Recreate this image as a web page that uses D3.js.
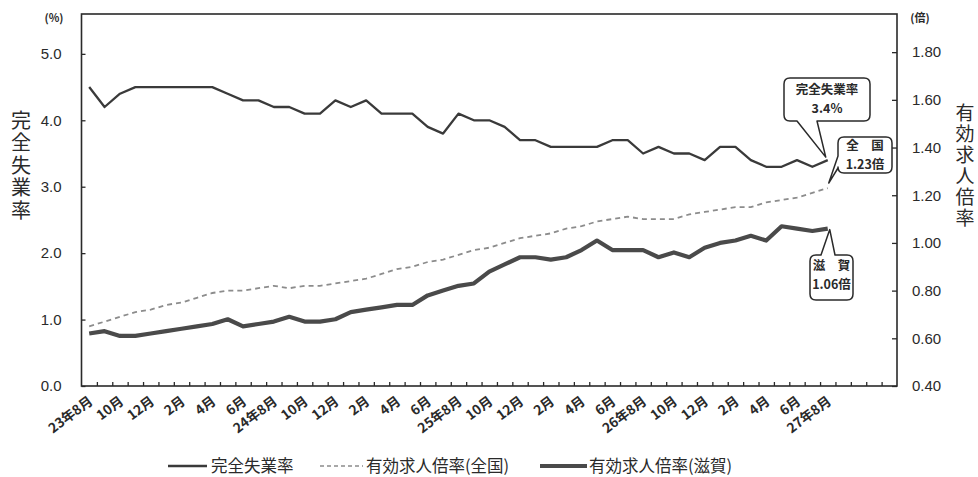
<!DOCTYPE html>
<html><head><meta charset="utf-8">
<script src="https://cdn.jsdelivr.net/npm/d3@7"></script>
<style>html,body{margin:0;padding:0;background:#fff;} svg{display:block;}</style>
</head><body><svg id="c" width="978" height="477"></svg>
<script>
// ---- data ----
const months = [
 "23年8月","9月","10月","11月","12月","1月","2月","3月","4月","5月","6月","7月",
 "24年8月","9月","10月","11月","12月","1月","2月","3月","4月","5月","6月","7月",
 "25年8月","9月","10月","11月","12月","1月","2月","3月","4月","5月","6月","7月",
 "26年8月","9月","10月","11月","12月","1月","2月","3月","4月","5月","6月","7月",
 "27年8月"];
const unemployment = [
 4.5,4.2,4.4,4.5,4.5,4.5,4.5,4.5,4.5,4.4,4.3,4.3,
 4.2,4.2,4.1,4.1,4.3,4.2,4.3,4.1,4.1,4.1,3.9,3.8,
 4.1,4.0,4.0,3.9,3.7,3.7,3.6,3.6,3.6,3.6,3.7,3.7,
 3.5,3.6,3.5,3.5,3.4,3.6,3.6,3.4,3.3,3.3,3.4,3.3,
 3.4];
const ratioNational = [
 0.65,0.67,0.69,0.71,0.72,0.74,0.75,0.77,0.79,0.80,0.80,0.81,
 0.82,0.81,0.82,0.82,0.83,0.84,0.85,0.87,0.89,0.90,0.92,0.93,
 0.95,0.97,0.98,1.00,1.02,1.03,1.04,1.06,1.07,1.09,1.10,1.11,
 1.10,1.10,1.10,1.12,1.13,1.14,1.15,1.15,1.17,1.18,1.19,1.21,
 1.23];
const ratioShiga = [
 0.62,0.63,0.61,0.61,0.62,0.63,0.64,0.65,0.66,0.68,0.65,0.66,
 0.67,0.69,0.67,0.67,0.68,0.71,0.72,0.73,0.74,0.74,0.78,0.80,
 0.82,0.83,0.88,0.91,0.94,0.94,0.93,0.94,0.97,1.01,0.97,0.97,
 0.97,0.94,0.96,0.94,0.98,1.00,1.01,1.03,1.01,1.07,1.06,1.05,
 1.06];
const leftTicks = [0,1,2,3,4,5];
const rightTicks = [0.4,0.6,0.8,1.0,1.2,1.4,1.6,1.8];
const extraSlots = 4;   // empty month slots after the last point
const legendItems = ["完全失業率","有効求人倍率(全国)","有効求人倍率(滋賀)"];

// ---- layout ----
const svg = d3.select("#c");
const M = {l:81.5, r:897, t:14, b:386};
const nSlots = months.length + extraSlots;
const x = d3.scaleLinear().domain([-0.5, nSlots - 0.5]).range([M.l, M.r]);
const yL = d3.scaleLinear().domain([0, 5.6]).range([M.b, M.t]);
const yR = d3.scaleLinear().domain([0.4, 1.96]).range([M.b, M.t]);
const NUM_FONT = "'Liberation Sans', Arial, sans-serif";
const JP_FONT = "'Noto Sans CJK JP', sans-serif";
const INK = "#2a2a2a";

// left axis
const gl = svg.append("g").attr("transform", `translate(${M.l},0)`)
  .call(d3.axisLeft(yL).tickValues(leftTicks).tickSize(-4).tickPadding(20).tickFormat(d3.format(".1f")));
gl.select(".domain").remove();
gl.selectAll("text").style("font-family", NUM_FONT).style("font-size", "15px").attr("fill", INK);
gl.selectAll("line").attr("stroke", INK).attr("stroke-width", 1.3);

// right axis
const gr = svg.append("g").attr("transform", `translate(${M.r},0)`)
  .call(d3.axisRight(yR).tickValues(rightTicks).tickSize(-5).tickPadding(15).tickFormat(d3.format(".2f")));
gr.select(".domain").remove();
gr.selectAll("text").style("font-family", NUM_FONT).style("font-size", "15px").attr("fill", INK);
gr.selectAll("line").attr("stroke", INK).attr("stroke-width", 1.3);

// bottom ticks (at month boundaries)
const gb = svg.append("g").attr("transform", `translate(0,${M.b})`)
  .call(d3.axisBottom(x).tickValues(d3.range(0.5, nSlots - 0.5, 1)).tickSize(-4).tickFormat(""));
gb.select(".domain").remove();
gb.selectAll("line").attr("stroke", INK).attr("stroke-width", 1.3);

// bottom labels
const gx = svg.append("g").attr("transform", `translate(0,${M.b})`)
  .call(d3.axisBottom(x).tickValues(d3.range(0, months.length, 2)).tickSize(0).tickFormat(i => months[i]));
gx.select(".domain").remove();
gx.selectAll("text")
  .attr("x", 0).attr("y", 0).attr("dy", 0)
  .attr("transform", "translate(4,17) rotate(-37)")
  .style("text-anchor", "end")
  .style("font-family", JP_FONT).style("font-weight", "bold").style("font-size", "13.5px")
  .attr("fill", INK);

// frame
svg.append("rect").attr("x", M.l).attr("y", M.t).attr("width", M.r - M.l).attr("height", M.b - M.t)
  .attr("fill", "none").attr("stroke", INK).attr("stroke-width", 1.6);

// unit labels
svg.append("text").attr("x", 54).attr("y", 22).attr("text-anchor", "middle")
  .style("font-family", JP_FONT).style("font-size", "11px").style("font-weight", "bold").attr("fill", INK).text("(%)");
svg.append("text").attr("x", 920).attr("y", 22).attr("text-anchor", "middle")
  .style("font-family", JP_FONT).style("font-size", "11px").style("font-weight", "bold").attr("fill", INK).text("(倍)");

// vertical titles
function vtitle(str, cx, top, fs, gap) {
  svg.append("text").attr("x", cx).attr("y", top)
    .style("writing-mode", "vertical-rl").style("text-orientation", "upright")
    .style("letter-spacing", gap + "px")
    .style("font-family", JP_FONT).style("font-size", fs + "px").attr("fill", INK).text(str);
}
vtitle("完全失業率", 21, 110, 20, 2.5);
vtitle("有効求人倍率", 965, 103, 19, 2);

// lines
const idx = d3.range(months.length);
const lineL = d3.line().x(i => x(i)).y(i => yL(unemployment[i]));
const lineN = d3.line().x(i => x(i)).y(i => yR(ratioNational[i]));
const lineS = d3.line().x(i => x(i)).y(i => yR(ratioShiga[i]));
svg.append("path").attr("d", lineS(idx)).attr("fill", "none").attr("stroke", "#4a4a4a")
  .attr("stroke-width", 4.2).attr("stroke-linejoin", "round");
svg.append("path").attr("d", lineN(idx)).attr("fill", "none").attr("stroke", "#8c8c8c")
  .attr("stroke-width", 1.8).attr("stroke-dasharray", "5,4");
svg.append("path").attr("d", lineL(idx)).attr("fill", "none").attr("stroke", "#3a3a3a")
  .attr("stroke-width", 2.3).attr("stroke-linejoin", "round");

// callouts
function calloutPath(b, r, side, a, c, tip) {
  let p = `M${b.x0 + r},${b.y0}`;
  if (side === "top") p += `H${a}L${tip[0]},${tip[1]}L${c},${b.y0}`;
  p += `H${b.x1 - r}Q${b.x1},${b.y0} ${b.x1},${b.y0 + r}V${b.y1 - r}Q${b.x1},${b.y1} ${b.x1 - r},${b.y1}`;
  if (side === "bottom") p += `H${c}L${tip[0]},${tip[1]}L${a},${b.y1}`;
  p += `H${b.x0 + r}Q${b.x0},${b.y1} ${b.x0},${b.y1 - r}`;
  if (side === "left") p += `V${c}L${tip[0]},${tip[1]}L${b.x0},${a}`;
  p += `V${b.y0 + r}Q${b.x0},${b.y0} ${b.x0 + r},${b.y0}Z`;
  return p;
}
const last = months.length - 1;
const callouts = [
  {b:{x0:784,y0:78,x1:870,y1:121}, side:"bottom", a:797, c:817,
   tip:[x(last) - 2, yL(unemployment[last]) - 3],
   lines:["完全失業率", unemployment[last].toFixed(1) + "%"], ty:[94, 112.5]},
  {b:{x0:838,y0:137,x1:892,y1:173}, side:"left", a:156, c:168,
   tip:[x(last) + 1, yR(ratioNational[last]) - 5],
   lines:["全　国", ratioNational[last].toFixed(2) + "倍"], ty:[150, 168.5]},
  {b:{x0:810,y0:255,x1:853,y1:300}, side:"top", a:821, c:835,
   tip:[x(last) + 2, yR(ratioShiga[last]) + 1],
   lines:["滋　賀", ratioShiga[last].toFixed(2) + "倍"], ty:[270, 288.5]}
];
callouts.forEach(co => {
  svg.append("path").attr("d", calloutPath(co.b, 6, co.side, co.a, co.c, co.tip))
    .attr("fill", "#fff").attr("stroke", INK).attr("stroke-width", 1.5).attr("stroke-linejoin", "round");
  const cx = (co.b.x0 + co.b.x1) / 2;
  co.lines.forEach((s, i) => {
    svg.append("text").attr("text-anchor", "middle").attr("x", cx).attr("y", co.ty[i])
      .style("font-family", JP_FONT).style("font-weight", "bold").style("font-size", "12.5px")
      .attr("fill", INK).text(s);
  });
});

// legend
const ly = 466, lb = 472;
const lg = svg.append("g");
const lfs = "16.5px";
lg.append("line").attr("x1", 168).attr("x2", 207).attr("y1", ly).attr("y2", ly)
  .attr("stroke", "#3a3a3a").attr("stroke-width", 2.3);
lg.append("text").attr("x", 211).attr("y", lb)
  .style("font-family", JP_FONT).style("font-size", lfs).attr("fill", INK).text(legendItems[0]);
lg.append("line").attr("x1", 320).attr("x2", 363).attr("y1", ly).attr("y2", ly)
  .attr("stroke", "#8c8c8c").attr("stroke-width", 1.6).attr("stroke-dasharray", "4,3");
lg.append("text").attr("x", 366).attr("y", lb)
  .style("font-family", JP_FONT).style("font-size", lfs).attr("fill", INK).text(legendItems[1]);
lg.append("line").attr("x1", 540).attr("x2", 587).attr("y1", ly).attr("y2", ly)
  .attr("stroke", "#4a4a4a").attr("stroke-width", 4.2);
lg.append("text").attr("x", 589).attr("y", lb)
  .style("font-family", JP_FONT).style("font-size", lfs).attr("fill", INK).text(legendItems[2]);
</script>
</body></html>
